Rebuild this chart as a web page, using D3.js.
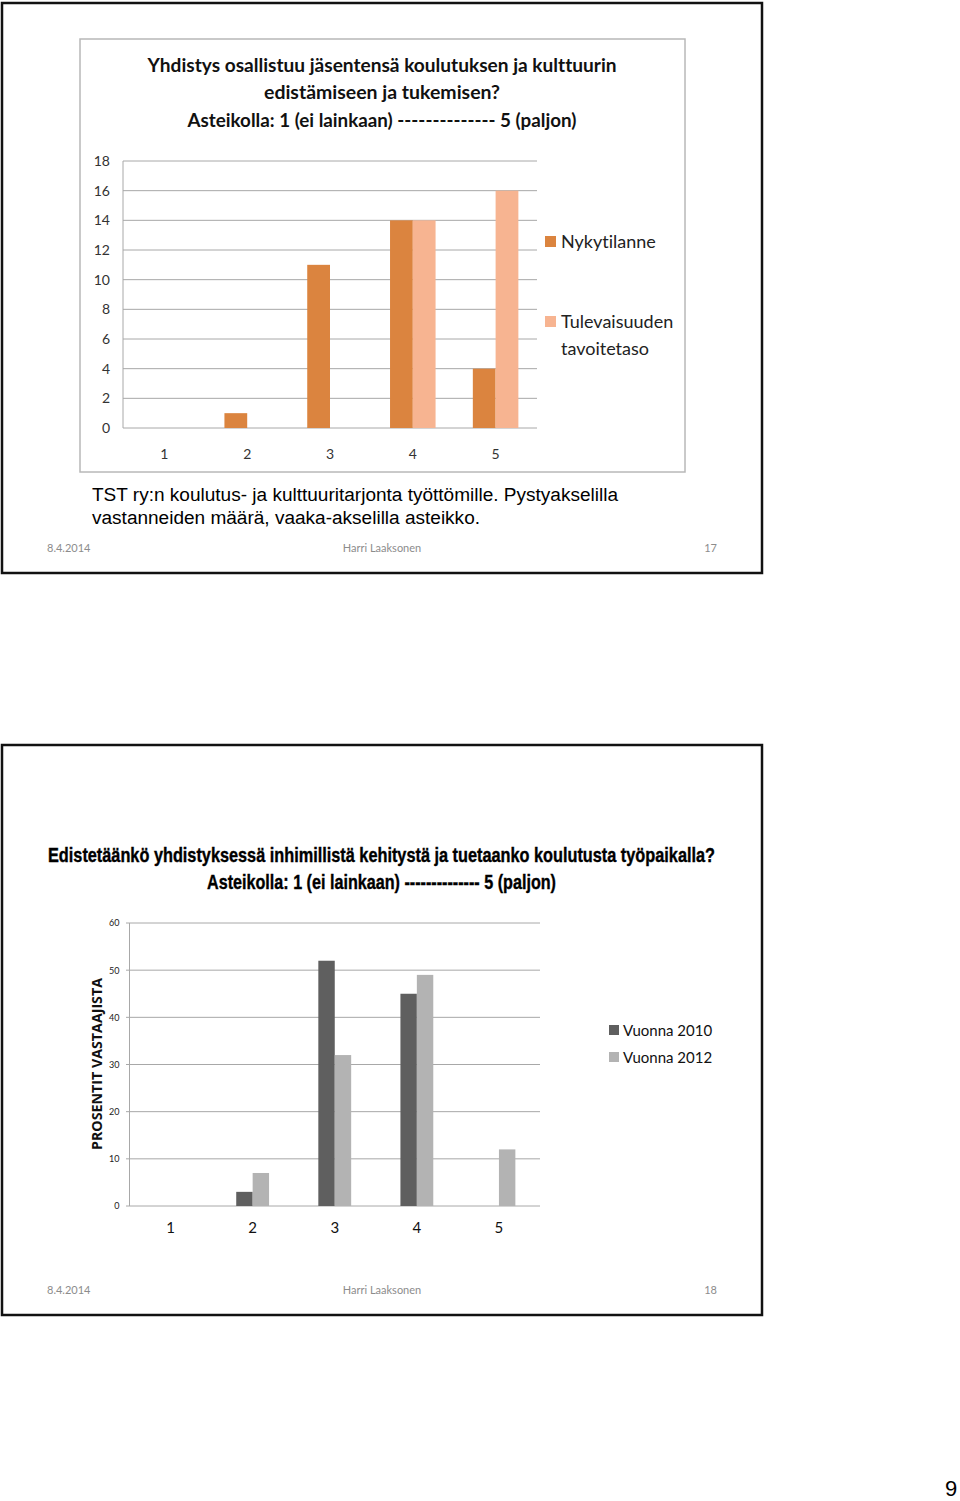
<!DOCTYPE html>
<html><head><meta charset="utf-8">
<script src="https://cdn.jsdelivr.net/npm/d3@7"></script>
<style>body{margin:0;background:#fff}svg{display:block}text{font-variant-ligatures:none}</style>
</head><body>
<script>
// ---- Data: chart 1 ----
const categories1 = ["1","2","3","4","5"];
const series1Names = ["Nykytilanne","Tulevaisuuden tavoitetaso"];
const nykytilanne = [0,1,11,14,4];
const tulevaisuus = [0,0,0,14,16];
const yTicks1 = [0,2,4,6,8,10,12,14,16,18];
const title1 = ["Yhdistys osallistuu jäsentensä koulutuksen ja kulttuurin","edistämiseen ja tukemisen?","Asteikolla: 1 (ei lainkaan) -------------- 5 (paljon)"];
const caption1 = ["TST ry:n koulutus- ja kulttuuritarjonta työttömille. Pystyakselilla","vastanneiden määrä, vaaka-akselilla asteikko."];

// ---- Data: chart 2 ----
const categories2 = ["1","2","3","4","5"];
const series2Names = ["Vuonna 2010","Vuonna 2012"];
const vuonna2010 = [0,3,52,45,0];
const vuonna2012 = [0,7,32,49,12];
const yTicks2 = [0,10,20,30,40,50,60];
const title2 = ["Edistetäänkö yhdistyksessä  inhimillistä kehitystä ja tuetaanko koulutusta työpaikalla?","Asteikolla: 1 (ei lainkaan) -------------- 5 (paljon)"];
const yTitle2 = "PROSENTIT VASTAAJISTA";

const footer = {date:"8.4.2014", author:"Harri Laaksonen", pages:["17","18"], pageNo:"9"};

const W=960,H=1501;
const svg=d3.select("body").append("svg").attr("width",W).attr("height",H);
const calibri="Lato, 'Open Sans', sans-serif";
const arial="'Liberation Sans', Arial, sans-serif";

// slide frames
[[3,570],[745,570]].forEach(([y,h])=>{
  svg.append("rect").attr("x",2).attr("y",y).attr("width",760).attr("height",h)
    .attr("fill","none").attr("stroke","#111").attr("stroke-width",2.5);
});

// footers
[[552,footer.pages[0]],[1294,footer.pages[1]]].forEach(([y,p])=>{
  const g=svg.append("g").attr("font-family",calibri).attr("font-size",11).attr("fill","#8c8c8c");
  g.append("text").attr("x",47).attr("y",y).text(footer.date);
  g.append("text").attr("x",382).attr("y",y).attr("text-anchor","middle").text(footer.author);
  g.append("text").attr("x",717).attr("y",y).attr("text-anchor","end").text(p);
});

// ===== Chart 1 =====
svg.append("rect").attr("x",80).attr("y",39).attr("width",605).attr("height",433)
  .attr("fill","#fff").attr("stroke","#b8b8b8").attr("stroke-width",1.5);

const t1w=[469,236,389], t1y=[72,99,127];
title1.forEach((t,i)=>{
  svg.append("text").attr("x",382).attr("y",t1y[i]).attr("text-anchor","middle")
    .attr("font-family",calibri).attr("font-weight","bold").attr("font-size",19).attr("fill","#111")
    .attr("textLength",t1w[i]).attr("lengthAdjust","spacingAndGlyphs").text(t);
});

const x1=d3.scaleBand().domain(categories1).range([123,537]).paddingInner(0.45).paddingOuter(0.225);
const x1s=d3.scaleBand().domain(series1Names).range([0,x1.bandwidth()]);
const y1=d3.scaleLinear().domain([0,18]).range([428,161]);
const colors1=["#db843f","#f7b491"];

const g1=svg.append("g");
g1.selectAll("line.grid").data(yTicks1).join("line")
  .attr("x1",123).attr("x2",537).attr("y1",d=>y1(d)).attr("y2",d=>y1(d))
  .attr("stroke","#a8a8a8").attr("stroke-width",1);
g1.append("line").attr("x1",123).attr("x2",123).attr("y1",y1(18)).attr("y2",y1(0)).attr("stroke","#a8a8a8");
const yAx1=d3.axisLeft(y1).tickValues(yTicks1).tickSize(0).tickPadding(13);
const ya1=g1.append("g").attr("transform","translate(123,0)").call(yAx1);
ya1.select(".domain").remove();
ya1.selectAll("text").attr("font-family",calibri).attr("font-size",14).attr("fill","#333");
const xAx1=d3.axisBottom(x1).tickSize(0).tickPadding(21);
const xa1=g1.append("g").attr("transform","translate(0,428)").call(xAx1);
xa1.select(".domain").remove();
xa1.selectAll("text").attr("font-family",calibri).attr("font-size",14).attr("fill","#333");

const data1=categories1.map((c,i)=>({c,vals:[nykytilanne[i],tulevaisuus[i]]}));
const grp1=g1.selectAll("g.grp").data(data1).join("g").attr("transform",d=>`translate(${x1(d.c)},0)`);
grp1.selectAll("rect").data(d=>d.vals.map((v,j)=>({v,j}))).join("rect")
  .attr("x",d=>x1s(series1Names[d.j])).attr("width",x1s.bandwidth())
  .attr("y",d=>y1(d.v)).attr("height",d=>y1(0)-y1(d.v)).attr("fill",d=>colors1[d.j]);

// legend 1
const leg1=[{name:["Nykytilanne"],y:236},{name:["Tulevaisuuden","tavoitetaso"],y:316}];
leg1.forEach((l,i)=>{
  svg.append("rect").attr("x",545).attr("y",l.y).attr("width",11).attr("height",11).attr("fill",colors1[i]);
  l.name.forEach((n,k)=>{
    svg.append("text").attr("x",561).attr("y",l.y+12+k*27).attr("font-family",calibri)
      .attr("font-size",18).attr("fill","#222").text(n);
  });
});

// caption
const capW=[526,388];
caption1.forEach((t,i)=>{
  svg.append("text").attr("x",92).attr("y",501+i*23).attr("font-family",arial)
    .attr("font-size",18).attr("fill","#000")
    .attr("textLength",capW[i]).attr("lengthAdjust","spacingAndGlyphs").text(t);
});

// ===== Chart 2 =====
const t2w=[667,349], t2y=[862,889];
title2.forEach((t,i)=>{
  svg.append("text").attr("x",i===0?48:207).attr("y",t2y[i])
    .attr("font-family","'Liberation Sans Narrow', 'Liberation Sans', Arial, sans-serif")
    .attr("font-weight","bold").attr("font-size",21).attr("fill","#000")
    .attr("stroke","#000").attr("stroke-width",0.4)
    .attr("textLength",t2w[i]).attr("lengthAdjust","spacingAndGlyphs").text(t);
});

const x2=d3.scaleBand().domain(categories2).range([129.5,540]).paddingInner(0.6).paddingOuter(0.3);
const x2s=d3.scaleBand().domain(series2Names).range([0,x2.bandwidth()]);
const y2=d3.scaleLinear().domain([0,60]).range([1206,923]);
const colors2=["#5f5f5f","#b3b3b3"];

const g2=svg.append("g");
g2.selectAll("line.grid").data(yTicks2).join("line")
  .attr("x1",126).attr("x2",540).attr("y1",d=>y2(d)).attr("y2",d=>y2(d))
  .attr("stroke","#a8a8a8").attr("stroke-width",1);
g2.append("line").attr("x1",129.5).attr("x2",129.5).attr("y1",y2(60)).attr("y2",y2(0)).attr("stroke","#a8a8a8");
const ya2=g2.append("g").attr("transform","translate(129.5,0)").call(d3.axisLeft(y2).tickValues(yTicks2).tickSize(0).tickPadding(10));
ya2.select(".domain").remove();
ya2.selectAll("text").attr("font-family",calibri).attr("font-size",9).attr("fill","#222");
const xa2=g2.append("g").attr("transform","translate(0,1206)").call(d3.axisBottom(x2).tickSize(0).tickPadding(16));
xa2.select(".domain").remove();
xa2.selectAll("text").attr("font-family",calibri).attr("font-size",15).attr("fill","#111");

const data2=categories2.map((c,i)=>({c,vals:[vuonna2010[i],vuonna2012[i]]}));
const grp2=g2.selectAll("g.grp").data(data2).join("g").attr("transform",d=>`translate(${x2(d.c)},0)`);
grp2.selectAll("rect").data(d=>d.vals.map((v,j)=>({v,j}))).join("rect")
  .attr("x",d=>x2s(series2Names[d.j])).attr("width",x2s.bandwidth())
  .attr("y",d=>y2(d.v)).attr("height",d=>y2(0)-y2(d.v)).attr("fill",d=>colors2[d.j]);

svg.append("text").attr("transform","translate(102,1064) rotate(-90)").attr("text-anchor","middle")
  .attr("font-family","'Open Sans', sans-serif").attr("font-weight","bold").attr("font-size",14)
  .attr("fill","#111").attr("textLength",172).attr("lengthAdjust","spacingAndGlyphs").text(yTitle2);

series2Names.forEach((n,i)=>{
  svg.append("rect").attr("x",609).attr("y",1025+i*27).attr("width",10).attr("height",10).attr("fill",colors2[i]);
  svg.append("text").attr("x",623).attr("y",1036+i*27).attr("font-family",calibri)
    .attr("font-size",15).attr("fill","#111").text(n);
});

// page number
svg.append("text").attr("x",951).attr("y",1496).attr("text-anchor","middle").attr("font-family",arial)
  .attr("font-size",22).attr("fill","#000").text(footer.pageNo);
</script>
</body></html>
